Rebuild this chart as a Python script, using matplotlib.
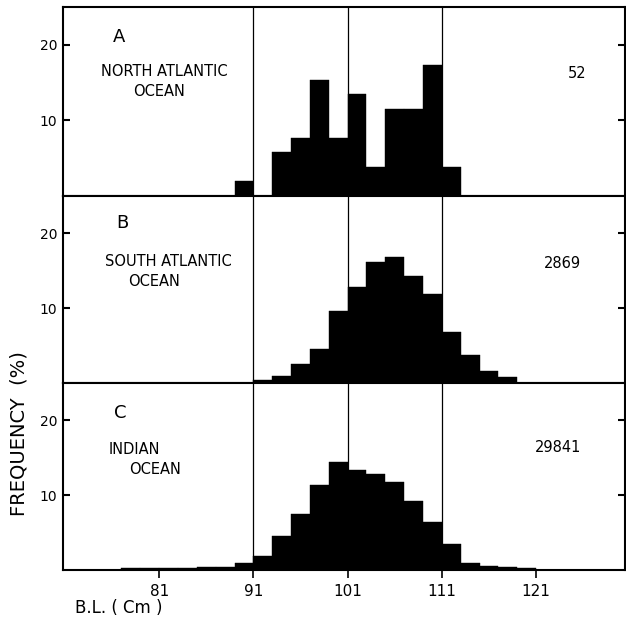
import matplotlib
matplotlib.use("Agg")
import matplotlib.pyplot as plt

# bin left edges (cm) and frequencies (%) per ocean, bins are 2 cm wide
north_bins = [89, 91, 93, 95, 97, 99, 101, 103, 105, 107, 109, 111]
north_freq = [1.92, 0, 5.77, 7.69, 15.38, 7.69, 13.46, 3.85, 11.54, 11.54, 17.31, 3.85]

south_bins = [91, 93, 95, 97, 99, 101, 103, 105, 107, 109, 111, 113, 115, 117]
south_freq = [0.4, 0.9, 2.5, 4.6, 9.6, 12.8, 16.2, 16.9, 14.3, 11.9, 6.8, 3.7, 1.6, 0.8]

indian_bins = [77, 79, 81, 83, 85, 87, 89, 91, 93, 95, 97, 99, 101, 103, 105,
               107, 109, 111, 113, 115, 117, 119]
indian_freq = [0.25, 0.25, 0.25, 0.25, 0.4, 0.4, 0.9, 1.9, 4.6, 7.5, 11.3, 14.4,
               13.4, 12.8, 11.7, 9.2, 6.4, 3.5, 0.9, 0.55, 0.35, 0.3]

panel_letters = ["A", "B", "C"]
panel_names = ["NORTH ATLANTIC\nOCEAN", "SOUTH ATLANTIC\nOCEAN", "INDIAN\nOCEAN"]
sample_sizes = ["52", "2869", "29841"]
x_ticks = [81, 91, 101, 111, 121]
ref_lines = [91, 101, 111]

fig = plt.figure(figsize=(6.26, 6.28), dpi=100)

left = 63 / 626
width = 1 - left - 0.002
tops = [7, 196, 383]
bottoms = [196, 383, 570]

series = [(north_bins, north_freq), (south_bins, south_freq), (indian_bins, indian_freq)]
name_pos = [(164, 72), (168, 262), (134, 450)]
name_xs = [(164, 159), (168, 154), (134, 155)]
letter_pos = [(119, 37), (122, 223), (120, 413)]
n_pos = [(577, 73), (562, 263), (558, 448)]

for i, (bins, freq) in enumerate(series):
    top, bot = tops[i], bottoms[i]
    ax = fig.add_axes([left, 1 - bot / 628, width, (bot - top) / 628])
    ax.bar(bins, freq, width=2, align="edge", color="black", edgecolor="black",
           linewidth=0.3)
    for xv in ref_lines:
        ax.axvline(xv, color="black", linewidth=0.9, zorder=0)
    ax.set_xlim(70.8, 130.4)
    ax.set_ylim(0, 25)
    ax.set_yticks([10, 20])
    ax.set_xticks(x_ticks)
    for s in ax.spines.values():
        s.set_linewidth(1.5)
    ax.tick_params(axis="y", direction="in", left=True, right=True, length=5,
                   width=1.5, labelsize=10, pad=4)
    ax.tick_params(axis="x", direction="out", bottom=True, top=False, length=6,
                   width=1.2, labelsize=11, pad=4)
    if i < 2:
        ax.tick_params(axis="x", labelbottom=False)

    # letters and labels, placed in pixel terms of the figure
    lx, ly = letter_pos[i]
    fig.text(lx / 626, 1 - ly / 628, panel_letters[i], fontsize=13,
             ha="center", va="center")
    first, second = panel_names[i].split("\n")
    (x1, x2) = name_xs[i]
    ny = name_pos[i][1]
    fig.text(x1 / 626, 1 - ny / 628, first, fontsize=10.5, ha="center", va="center")
    fig.text(x2 / 626, 1 - (ny + 19) / 628, second, fontsize=10.5, ha="center",
             va="center")
    sx, sy = n_pos[i]
    fig.text(sx / 626, 1 - sy / 628, sample_sizes[i], fontsize=10.5,
             ha="center", va="center")

fig.text(19 / 626, 1 - 434 / 628, "FREQUENCY  (%)", rotation=90, fontsize=14,
         ha="center", va="center")
fig.text(75 / 626, 1 - 608 / 628, "B.L. ( Cm )", fontsize=12, ha="left",
         va="center")

fig.savefig("out.png", dpi=100)
